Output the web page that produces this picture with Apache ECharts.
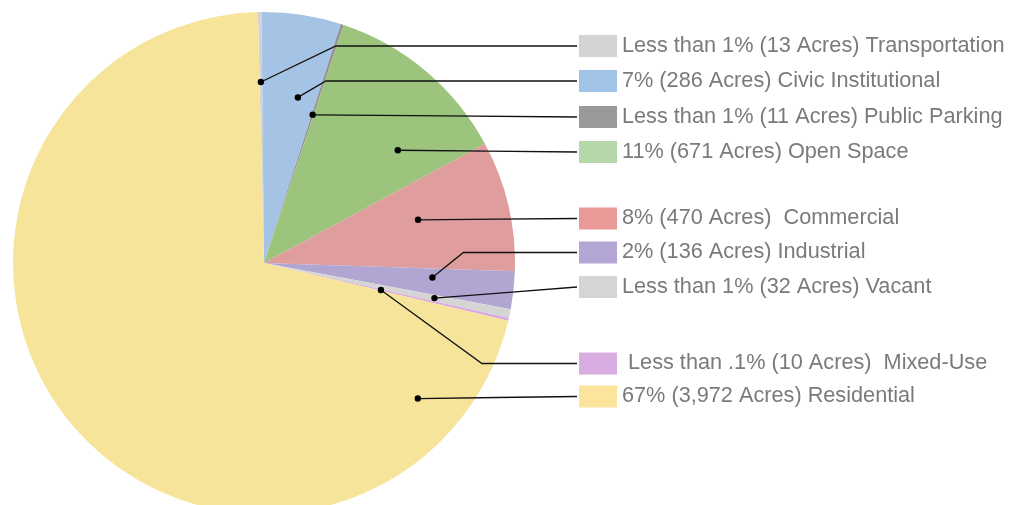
<!DOCTYPE html>
<html>
<head>
<meta charset="utf-8">
<script src="https://cdn.jsdelivr.net/npm/echarts@6/dist/echarts.min.js"></script>
<style>
  html, body { margin: 0; padding: 0; background: #fff; }
  #chart { width: 1021px; height: 505px; }
</style>
</head>
<body>
<div id="chart"></div>
<script>
// ---- data ----
const categories = ['Transportation', 'Civic Institutional', 'Public Parking', 'Open Space',
  'Commercial', 'Industrial', 'Vacant', 'Mixed-Use', 'Residential'];
const acres = [13, 286, 11, 671, 470, 136, 32, 10, 3972];
const pctLabels = ['Less than 1%', '7%', 'Less than 1%', '11%', '8%', '2%',
  'Less than 1%', ' Less than .1%', '67%'];
const nameSep = [' ', ' ', ' ', ' ', '  ', ' ', ' ', '  ', ' '];

// ---- styles ----
const sliceColors = ['#d3d3d3', '#a5c3e5', '#949494', '#9cc47c', '#e09d9d', '#b1a6d2', '#d5d5d5', '#d8a8e1', '#f7e49b'];
const boxColors = ['#d4d4d4', '#a2c4e8', '#999999', '#b6d7a8', '#ea9999', '#b4a7d6', '#d5d5d5', '#d9ace2', '#fce49c'];
const CX = 264, CY = 263, R = 251;
const START_CW = -1.4;               // degrees clockwise from 12 o'clock
const LABEL_X = 579;
const rowY = [46, 81, 117, 152, 218.5, 252.5, 287, 363.5, 396.5];
const leaderR = [181, 169, 156, 175, 160, 169, 174, 120, 205];
const leaderFrac = [0.5, 0.66, 0.5, 0.727, 0.42, 0.35, 0.5, 0.5, 0.11];
const bendDx = [75, 28, 0, 0, 0, 31, 0, 101, 0];

const total = acres.reduce((a, b) => a + b, 0);
function anchorPoint(i) {
  let cum = 0;
  for (let j = 0; j < i; j++) cum += acres[j];
  const a0 = START_CW + cum / total * 360;
  const a1 = START_CW + (cum + acres[i]) / total * 360;
  const th = (a0 + (a1 - a0) * leaderFrac[i]) * Math.PI / 180;
  return [CX + leaderR[i] * Math.sin(th), CY - leaderR[i] * Math.cos(th)];
}
function fmtAcres(v) { return v.toLocaleString('en-US'); }

const rich = {
  t: { fontSize: 21.7, color: '#7a7a7a', fontFamily: 'Liberation Sans, Arial, sans-serif', padding: [0, 0, 0, 5], lineHeight: 24 }
};
boxColors.forEach((c, i) => { rich['b' + i] = { width: 38, height: 22, backgroundColor: c }; });

const pieBase = {
  type: 'pie',
  silent: true,
  center: [CX, CY],
  radius: [0, R],
  startAngle: 90 - START_CW,
  clockwise: true,
  avoidLabelOverlap: false,
  emphasis: { disabled: true }
};

const chart = echarts.init(document.getElementById('chart'), null, { renderer: 'canvas' });
chart.setOption({
  animation: false,
  backgroundColor: '#ffffff',
  series: [
    Object.assign({}, pieBase, {
      z: 2,
      itemStyle: { borderWidth: 0 },
      data: categories.map((n, i) => ({ name: n, value: acres[i], itemStyle: { color: sliceColors[i] } })),
      label: { show: false },
      labelLine: { show: false }
    }),
    Object.assign({}, pieBase, {
      z: 5,
      itemStyle: { color: 'rgba(0,0,0,0)', borderWidth: 0 },
      data: categories.map((n, i) => ({ name: n, value: acres[i] })),
      label: {
        show: true,
        position: 'outside',
        formatter: (p) => {
          const i = p.dataIndex;
          return '{b' + i + '|}{t|' + pctLabels[i] + ' (' + fmtAcres(acres[i]) + ' Acres)' + nameSep[i] + categories[i] + '}';
        },
        rich: rich
      },
      labelLine: { show: true, length: 10, length2: 10, smooth: false, lineStyle: { color: '#111', width: 1.3 } },
      labelLayout: function (params) {
        const i = params.dataIndex;
        const a = anchorPoint(i);
        const y = rowY[i];
        const endX = LABEL_X - 2;
        const bend = bendDx[i] ? [a[0] + bendDx[i], y] : [(a[0] + endX) / 2, (a[1] + y) / 2];
        return { x: LABEL_X, y: y, align: 'left', verticalAlign: 'middle', labelLinePoints: [a, bend, [endX, y]] };
      }
    })
  ],
  graphic: categories.map((n, i) => {
    const a = anchorPoint(i);
    return { type: 'circle', z: 100, silent: true, shape: { cx: a[0], cy: a[1], r: 3.2 }, style: { fill: '#000' } };
  })
});
</script>
</body>
</html>
